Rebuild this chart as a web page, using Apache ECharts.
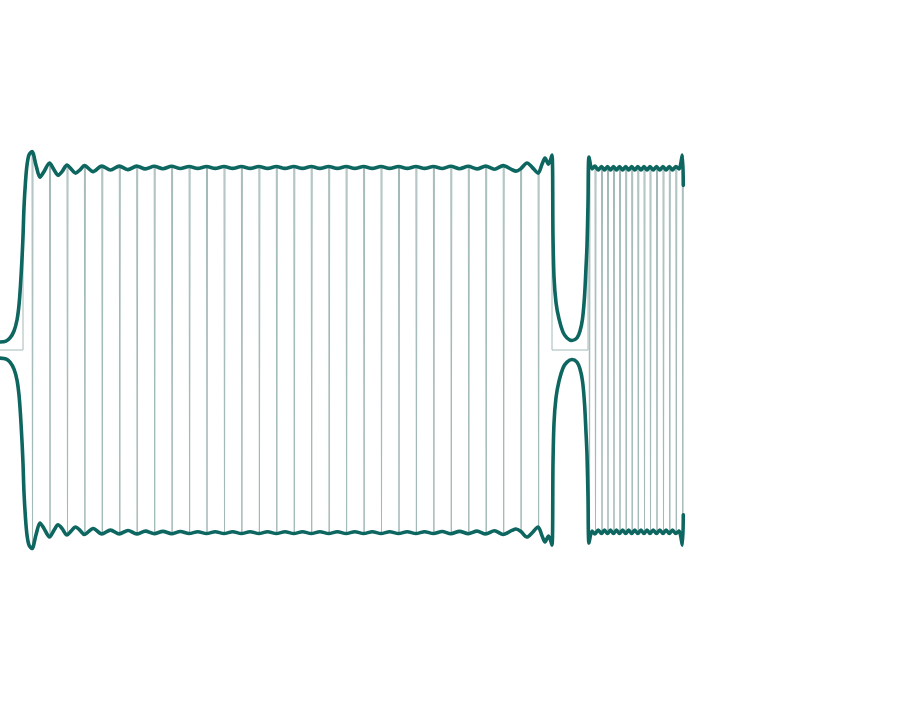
<!DOCTYPE html>
<html>
<head>
<meta charset="utf-8">
<script src="https://cdn.jsdelivr.net/npm/echarts@6/dist/echarts.min.js"></script>
<style>
  html, body { margin: 0; padding: 0; background: #ffffff; }
  #chart { width: 908px; height: 705px; }
</style>
</head>
<body>
<div id="chart"></div>
<script>
// ---- Envelope (upper): time position and amplitude ----
const riseT = [0, 6, 10, 14, 17, 19, 20.5, 22, 23, 24, 25.5, 27, 29];
const riseA = [0.044, 0.049, 0.066, 0.104, 0.164, 0.246, 0.355, 0.5, 0.62, 0.78, 0.92, 1.011, 1.066];

const pulse1T = [32, 36, 40, 44, 49.5, 54, 58, 62, 67, 71, 75.6, 80, 84.4, 93.1, 101.8, 110.5, 119.3, 128, 136.7,
  145.4, 154.2, 162.9, 171.6, 180.3, 189.1, 197.8, 206.5, 215.2, 224, 232.7, 241.4, 250.1, 258.9, 267.6, 276.3,
  285, 293.8, 302.5, 311.2, 319.9, 328.7, 337.4, 346.1, 354.8, 363.6, 372.3, 381, 389.7, 398.5, 407.2, 415.9,
  424.6, 433.4, 442.1, 450.8, 459.5, 468.3, 477, 485.7, 494.4, 503.2, 511.9, 516, 520.6, 527, 532, 538.1, 542,
  545, 548.5, 552];
const pulse1A = [1.085, 1.01, 0.945, 0.975, 1.022, 0.985, 0.955, 0.975, 1.011, 0.99, 0.967, 0.985, 1.008, 0.975, 1.005,
  0.984, 1.005, 0.986, 1.005, 0.99, 1.004, 0.991, 1.004, 0.992, 1.003, 0.993, 1.003, 0.993, 1.003, 0.993, 1.003,
  0.993, 1.003, 0.993, 1.003, 0.993, 1.003, 0.993, 1.003, 0.993, 1.003, 0.993, 1.003, 0.993, 1.003, 0.993, 1.003,
  0.993, 1.003, 0.993, 1.003, 0.993, 1.003, 0.992, 1.004, 0.991, 1.004, 0.99, 1.005, 0.988, 1.008, 0.986, 0.978,
  0.99, 1.022, 1.0, 0.967, 1.015, 1.049, 1.016, 1.066];

const gapT = [553, 554, 556, 559, 563, 567, 572, 577, 580, 582.5, 584.5, 586, 587];
const gapA = [0.62, 0.40, 0.26, 0.17, 0.098, 0.066, 0.052, 0.066, 0.104, 0.17, 0.29, 0.45, 0.57];

const pulse2T = [588, 589, 592, 595, 598.2, 601.5, 604.5, 607.5, 610.5, 613.5, 616.5, 619.5, 622.6, 625.7, 628.7,
  631.7, 634.8, 637.8, 641, 644, 647, 650, 653.2, 656.5, 659.8, 663, 666.1, 669.3, 672.5, 675.8, 679, 682.3, 683.3];
const pulse2A = [0.80, 1.055, 0.99, 1.005, 0.984, 1.003, 0.984, 1.003, 0.984, 1.003, 0.984, 1.003, 0.984, 1.003, 0.984,
  1.003, 0.984, 1.003, 0.984, 1.003, 0.984, 1.003, 0.984, 1.003, 0.984, 1.003, 0.984, 1.003, 0.984, 1.003, 0.99, 1.066, 0.90];

// ---- Carrier swing positions (where the thin signal swings top -> bottom -> top) ----
const pulse1Swings = [32, 49.5, 67, 84.4, 101.8, 119.3, 136.7, 154.2, 171.6, 189.1, 206.5, 224, 241.4, 258.9, 276.3,
  293.8, 311.2, 328.7, 346.1, 363.6, 381, 398.5, 415.9, 433.4, 450.8, 468.3, 485.7, 503.2, 520.6, 538.1];
const pulse2Swings = [589, 595, 601.5, 607.5, 613.5, 619.5, 625.7, 631.7, 637.8, 644, 650, 656.5, 663, 669.3, 675.8, 682.3];

// carrier on-windows (signal is zero outside)
const windowStart = [23, 588];
const windowEnd = [552, 683.3];

// ---- build series data ----
const envT = [].concat(riseT, pulse1T, gapT, pulse2T);
const envA = [].concat(riseA, pulse1A, gapA, pulse2A);
const upper = envT.map((t, i) => [t, envA[i]]);
const lower = envT.map((t, i) => [t, -envA[i]]);

const swings = new Set([].concat(pulse1Swings, pulse2Swings));
const carrier = [[0, 0]];
for (let w = 0; w < windowStart.length; w++) {
  const w0 = windowStart[w], w1 = windowEnd[w];
  carrier.push([w0, 0]);
  for (let i = 0; i < envT.length; i++) {
    const t = envT[i], a = envA[i];
    if (t < w0 || t > w1) continue;
    carrier.push([t, a]);
    if (swings.has(t)) {
      carrier.push([t + 0.5, -a]);
      carrier.push([t + 1.0, a]);
    }
  }
  if (w === 0) carrier.push([w1, 0]);
}

const chart = echarts.init(document.getElementById('chart'), null, { renderer: 'canvas' });
chart.setOption({
  animation: false,
  backgroundColor: '#ffffff',
  grid: { left: 0, right: 0, top: 0, bottom: 0 },
  xAxis: { type: 'value', min: 0, max: 908, show: false },
  yAxis: { type: 'value', min: -1.94, max: 1.913, show: false },
  series: [
    {
      name: 'signal', type: 'line', data: carrier, showSymbol: false, smooth: false,
      lineStyle: { color: '#a2b9b7', width: 1 }, z: 1
    },
    {
      name: 'envelope+', type: 'line', data: upper, showSymbol: false, smooth: 0.3,
      lineStyle: { color: '#0d6660', width: 3.6, join: 'round', cap: 'round' }, z: 2
    },
    {
      name: 'envelope-', type: 'line', data: lower, showSymbol: false, smooth: 0.3,
      lineStyle: { color: '#0d6660', width: 3.6, join: 'round', cap: 'round' }, z: 2
    }
  ]
});
</script>
</body>
</html>
